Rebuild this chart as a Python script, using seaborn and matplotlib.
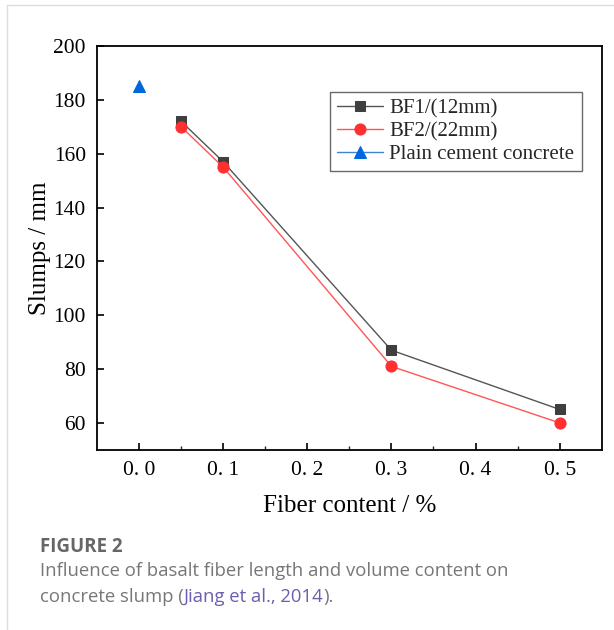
import numpy as np
import pandas as pd
import seaborn as sns
import matplotlib.pyplot as plt
from matplotlib.lines import Line2D

# data
fiber = [0.05, 0.1, 0.3, 0.5]
bf1 = [172, 157, 87, 65]
bf2 = [170, 155, 81, 60]
plain_x = [0.0]
plain_y = [185]
xticks = [0.0, 0.1, 0.2, 0.3, 0.4, 0.5]
xtick_labels = ["0. 0", "0. 1", "0. 2", "0. 3", "0. 4", "0. 5"]
yticks = [60, 80, 100, 120, 140, 160, 180, 200]

sns.set_theme(style="white")
plt.rcParams['font.family'] = ['Liberation Serif', 'DejaVu Serif']

fig = plt.figure(figsize=(6.14, 6.30), dpi=100)
ax = fig.add_axes([0.158, 0.286, 0.822, 0.641])

df1 = pd.DataFrame({'x': fiber, 'y': bf1})
df2 = pd.DataFrame({'x': fiber, 'y': bf2})
df3 = pd.DataFrame({'x': plain_x, 'y': plain_y})

sns.lineplot(data=df1, x='x', y='y', ax=ax, color='#555555', linewidth=1,
             marker='s', markersize=7, markerfacecolor='#3f3f3f',
             markeredgecolor='#3f3f3f', label='BF1/(12mm)')
sns.lineplot(data=df2, x='x', y='y', ax=ax, color='#ff5555', linewidth=1,
             marker='o', markersize=8, markerfacecolor='#ff3030',
             markeredgecolor='#ff3030', label='BF2/(22mm)')
sns.lineplot(data=df3, x='x', y='y', ax=ax, color='#3d85d0', linewidth=1,
             marker='^', markersize=8, markerfacecolor='#0066dd',
             markeredgecolor='#0066dd', label='Plain cement concrete')

ax.set_xlim(-0.05, 0.55)
ax.set_ylim(50, 200)
ax.set_xticks(xticks)
ax.set_xticklabels(xtick_labels)
ax.set_xticks([0.05, 0.15, 0.25, 0.35, 0.45], minor=True)
ax.set_yticks(yticks)
ax.tick_params(axis='both', which='major', direction='in', length=5, width=1.2,
               labelsize=15.5, colors='black', pad=8)
ax.tick_params(axis='x', which='minor', direction='in', length=3, width=1.0,
               bottom=True)
ax.tick_params(axis='y', left=True)
ax.tick_params(axis='x', bottom=True)
for s in ax.spines.values():
    s.set_color('black')
    s.set_linewidth(1.3)

ax.set_xlabel('Fiber content / %', fontsize=18, color='black', labelpad=11)
ax.set_ylabel('Slumps / mm', fontsize=18, color='black', labelpad=2)

leg = ax.legend(loc='upper right', bbox_to_anchor=(0.96, 0.887), fontsize=15,
                frameon=True, fancybox=False, edgecolor='#444444',
                borderpad=0.35, labelspacing=0.15, handlelength=2.2,
                handletextpad=0.3, borderaxespad=0)
leg.get_frame().set_linewidth(1.0)

# page frame lines
fig.add_artist(Line2D([0.011, 1.0], [0.992, 0.992], color='#dddddd', linewidth=1))
fig.add_artist(Line2D([0.011, 0.011], [0.0, 0.992], color='#dddddd', linewidth=1))

cap = ['Open Sans', 'DejaVu Sans']
fig.text(0.065, 0.132, 'FIGURE 2', fontsize=13.5, fontweight='bold',
         color='#666666', family=cap, va='center')
fig.text(0.065, 0.093, 'Influence of basalt fiber length and volume content on',
         fontsize=13.3, color='#777777', family=cap, va='center')
t = fig.text(0.065, 0.052, 'concrete slump (', fontsize=13.3, color='#777777',
             family=cap, va='center')
fig.canvas.draw()
bb = t.get_window_extent().transformed(fig.transFigure.inverted())
t2 = fig.text(bb.x1, 0.052, 'Jiang et al., 2014', fontsize=13.3, color='#6a5fb0',
              family=cap, va='center')
fig.canvas.draw()
bb2 = t2.get_window_extent().transformed(fig.transFigure.inverted())
fig.text(bb2.x1, 0.052, ').', fontsize=13.3, color='#777777', family=cap, va='center')

fig.savefig('out.png', dpi=100, facecolor='white')
